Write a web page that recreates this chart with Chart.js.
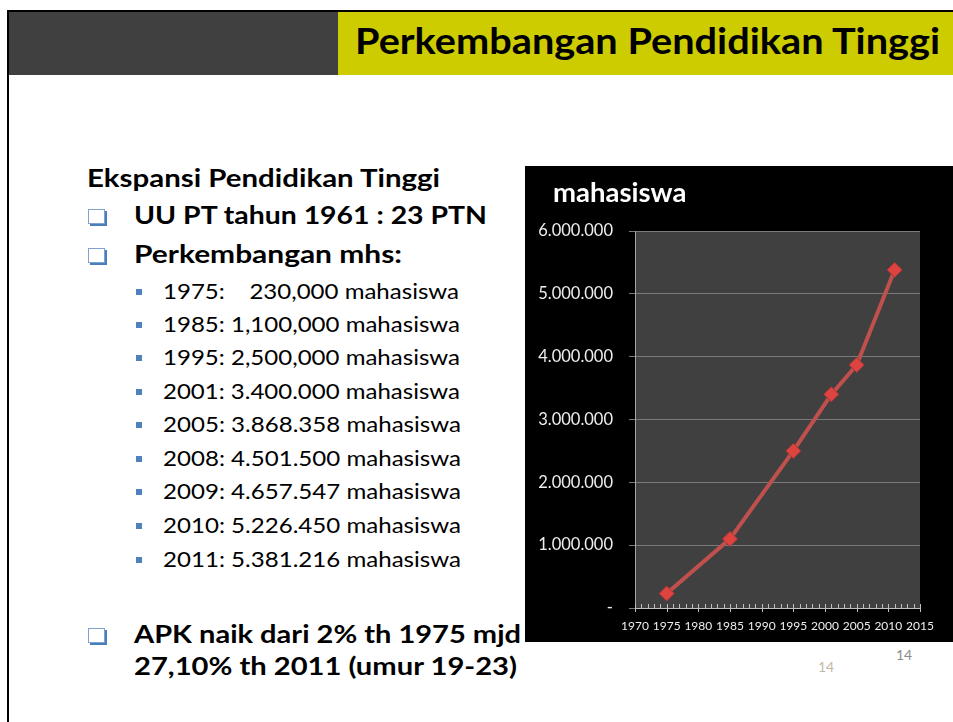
<!DOCTYPE html>
<html>
<head>
<meta charset="utf-8">
<script src="https://cdn.jsdelivr.net/npm/chart.js@4.4.1/dist/chart.umd.min.js"></script>
<style>
  body { margin: 0; background: #fff; width: 953px; height: 722px; overflow: hidden; position: relative; font-family: Lato, "DejaVu Sans", sans-serif; }
  .abs { position: absolute; }
  .line { position: absolute; white-space: pre; line-height: 1; transform-origin: 0 0; color: #000; }
  .box { position: absolute; width: 15px; height: 13px; border: 1px solid #7fa3d1; background: #fff; box-shadow: 2px 2px 0 #4a7ebb; }
  .sq { position: absolute; width: 6px; height: 6px; background: #4f81bd; }
</style>
</head>
<body>
<!-- slide frame + header -->
<div class="abs" style="left:7px;top:10px;width:946px;height:2px;background:#000"></div>
<div class="abs" style="left:7px;top:10px;width:2px;height:712px;background:#000"></div>
<div class="abs" style="left:9px;top:12px;width:329px;height:63px;background:#404040"></div>
<div class="abs" style="left:338px;top:12px;width:615px;height:63px;background:#cccc00"></div>

<div id="chartBox" class="abs" style="left:525px;top:166px;width:428px;height:476px;background:#000">
  <canvas id="chart" width="428" height="476"></canvas>
</div>

<div class="abs" style="left:818px;top:658px;font-size:14px;color:#c3b9a6">14</div>
<div class="abs" style="left:896px;top:646px;font-size:14px;color:#8c8c8c">14</div>

<script>
// chart data
const years = [1975, 1985, 1995, 2001, 2005, 2011];
const students = [230000, 1100000, 2500000, 3400000, 3868358, 5381216];
const xMin = 1970, xMax = 2015, xStep = 5;
const yMax = 6000000, yStep = 1000000;
const chartTitleText = "mahasiswa";

// slide text: text, left, baseline, width, font size, weight
const textLines = [
  ["Perkembangan Pendidikan Tinggi", 355, 54, 585, 37, 700],
  ["Ekspansi Pendidikan Tinggi", 87, 187, 353, 24, 700],
  ["UU PT tahun 1961 : 23 PTN", 134, 224, 353, 25, 700],
  ["Perkembangan mhs:", 134, 263, 268, 25, 700],
  ["1975:    230,000 mahasiswa", 163, 299.5, 296, 22, 400],
  ["1985: 1,100,000 mahasiswa", 163, 332.5, 297, 22, 400],
  ["1995: 2,500,000 mahasiswa", 163, 366, 297, 22, 400],
  ["2001: 3.400.000 mahasiswa", 163, 399.5, 297, 22, 400],
  ["2005: 3.868.358 mahasiswa", 163, 433, 298, 22, 400],
  ["2008: 4.501.500 mahasiswa", 163, 466.5, 298, 22, 400],
  ["2009: 4.657.547 mahasiswa", 163, 500, 298, 22, 400],
  ["2010: 5.226.450 mahasiswa", 163, 533.5, 298, 22, 400],
  ["2011: 5.381.216 mahasiswa", 163, 567.5, 298, 22, 400],
  ["APK naik dari 2% th 1975 mjd", 134, 643, 387, 25, 700],
  ["27,10% th 2011 (umur 19-23)", 134, 675, 383, 25, 700],
];
const checkBoxes = [224, 263, 643];

textLines.forEach(([t, x, base, w, fs, fw]) => {
  const el = document.createElement("div");
  el.className = "line";
  el.textContent = t;
  el.style.left = x + "px";
  el.style.top = (base - 0.887 * fs) + "px";
  el.style.fontSize = fs + "px";
  el.style.fontWeight = fw;
  document.body.appendChild(el);
  const real = el.getBoundingClientRect().width;
  el.style.transform = "scaleX(" + (w / real) + ")";
  if (fw === 400) {
    const sq = document.createElement("div");
    sq.className = "sq";
    sq.style.left = "136px";
    sq.style.top = (base - 11) + "px";
    document.body.appendChild(sq);
  }
});
checkBoxes.forEach(base => {
  const b = document.createElement("div");
  b.className = "box";
  b.style.left = "88px";
  b.style.top = (base - 15) + "px";
  document.body.appendChild(b);
});

// grey plot area + chart title
const plotBg = {
  id: "plotBg",
  beforeDraw(chart) {
    const { ctx, chartArea: a } = chart;
    ctx.save();
    ctx.fillStyle = "#404040";
    ctx.fillRect(a.left, a.top, a.right - a.left, a.bottom - a.top);
    ctx.font = "bold 27.5px Lato";
    ctx.fillStyle = "#ffffff";
    ctx.textBaseline = "middle";
    ctx.fillText(chartTitleText, 28, 27);
    ctx.restore();
  }
};

// yearly minor ticks + longer major ticks on the x axis
const yearTicks = {
  id: "yearTicks",
  beforeDatasetsDraw(chart) {
    const { ctx, scales: { x } } = chart;
    const b = chart.chartArea.bottom;
    ctx.save();
    ctx.strokeStyle = "#bfbfbf";
    ctx.lineWidth = 1;
    ctx.beginPath();
    for (let yr = xMin; yr <= xMax; yr++) {
      const px = Math.round(x.getPixelForValue(yr)) + 0.5;
      ctx.moveTo(px, b - 4);
      ctx.lineTo(px, yr % xStep === 0 ? b + 4 : b);
    }
    ctx.stroke();
    ctx.restore();
  }
};

new Chart(document.getElementById("chart").getContext("2d"), {
  type: "scatter",
  data: {
    datasets: [{
      data: years.map((y, i) => ({ x: y, y: students[i] })),
      showLine: true,
      borderColor: "#c0504d",
      borderWidth: 4,
      pointStyle: "rectRot",
      pointRadius: 7.5,
      pointBackgroundColor: "#dd433f",
      pointBorderColor: "#a83734",
      pointBorderWidth: 1,
    }]
  },
  options: {
    responsive: false,
    animation: false,
    layout: { padding: { left: 0, right: 33, top: 65, bottom: 0 } },
    plugins: {
      legend: { display: false },
      tooltip: { enabled: false },
      title: { display: false }
    },
    scales: {
      x: {
        type: "linear",
        min: xMin,
        max: xMax,
        afterFit: s => { s.height = 34; },
        grid: { display: false, drawTicks: false },
        border: { display: true, color: "#bfbfbf", width: 1 },
        ticks: {
          stepSize: xStep,
          autoSkip: false,
          maxRotation: 0,
          padding: 11,
          color: "#eeeeee",
          font: { family: "Lato", size: 12 },
          callback: v => String(v)
        }
      },
      y: {
        min: 0,
        max: yMax,
        afterFit: s => { s.width = 110; },
        grid: { color: "#7a7a7a", lineWidth: 1, tickLength: 6 },
        border: { display: true, color: "#a6a6a6", width: 1 },
        ticks: {
          stepSize: yStep,
          padding: 16,
          color: "#eeeeee",
          font: { family: "Lato", size: 16.5 },
          callback: v => v === 0 ? "-" : v.toLocaleString("de-DE")
        }
      }
    }
  },
  plugins: [plotBg, yearTicks]
});
</script>
</body>
</html>
